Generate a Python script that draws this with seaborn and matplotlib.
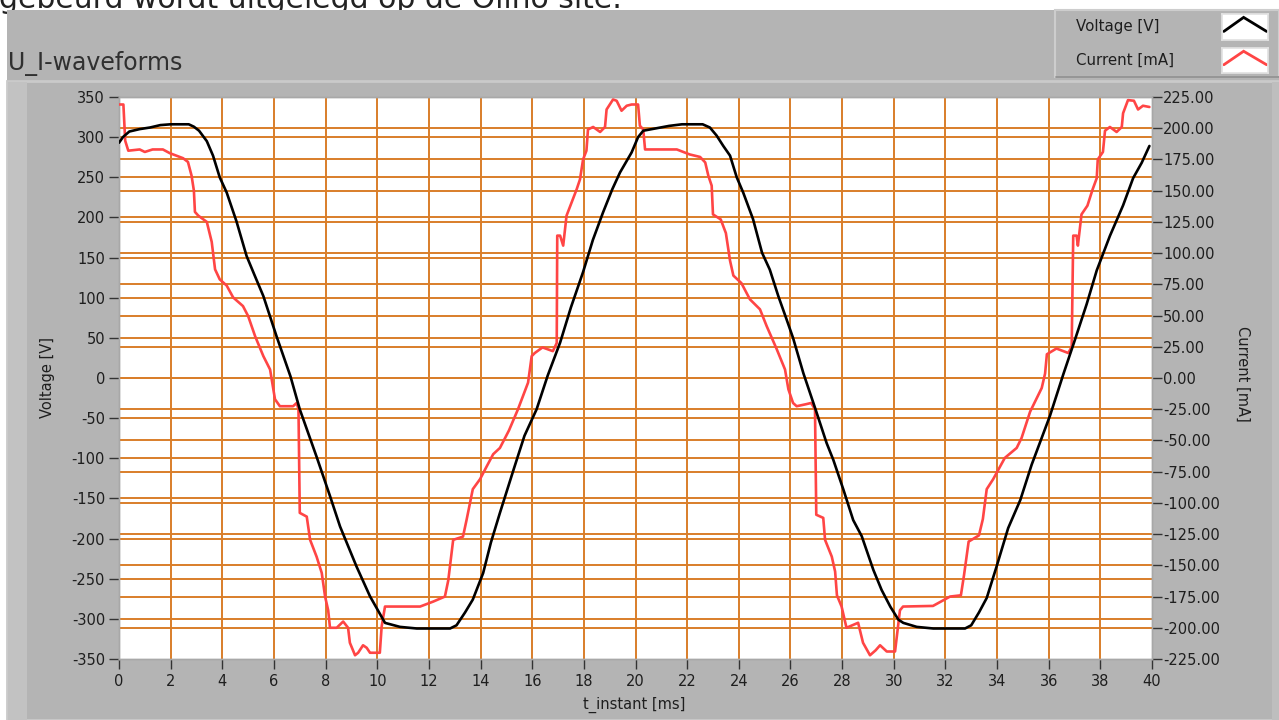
import matplotlib
matplotlib.use("Agg")
import matplotlib.pyplot as plt
import numpy as np
import pandas as pd
import seaborn as sns
from matplotlib.patches import Rectangle
from matplotlib.lines import Line2D

# ---------------- data ----------------
t_voltage = [0.0, 0.15, 0.4, 0.8, 1.2, 1.6, 2.0, 2.7, 2.9, 3.1, 3.4, 3.64, 3.9, 4.17, 4.55,
             4.94, 5.25, 5.59, 6.1, 6.64, 7.0, 7.65, 8.17, 8.56, 9.2, 9.72, 10.3, 10.88,
             11.53, 12.82, 13.07, 13.4, 13.7, 14.1, 14.4, 14.75, 15.3, 15.7, 16.17, 16.6,
             17.08, 17.5, 17.97, 18.35, 18.74, 19.1, 19.4, 19.85, 20.1, 20.3, 20.8, 21.3,
             21.8, 22.6, 22.88, 23.14, 23.4, 23.66, 23.92, 24.17, 24.55, 24.9, 25.2, 25.53,
             25.85, 26.1, 26.5, 26.95, 27.4, 27.66, 28.05, 28.43, 28.76, 29.21, 29.53, 29.87,
             30.18, 30.37, 30.89, 31.53, 32.76, 33.0, 33.3, 33.6, 33.98, 34.43, 34.9, 35.34,
             36.05, 36.57, 37.02, 37.47, 37.86, 38.37, 38.88, 39.27, 39.6, 39.9]
voltage = [293, 300, 307, 310, 312, 315, 316, 316, 313, 308, 295, 277, 250, 231, 195,
           152, 128, 102, 52, 2, -39, -98, -147, -185, -235, -272, -305, -310,
           -312, -312, -308, -292, -276, -243, -205, -168, -112, -72, -39, 3,
           44, 88, 132, 172, 206, 235, 256, 281, 300, 308, 311, 314,
           316, 316, 312, 302, 289, 277, 250, 231, 198, 156, 135, 102,
           73, 50, 6, -37, -81, -102, -139, -177, -197, -239, -264, -285,
           -301, -305, -310, -312, -312, -308, -292, -274, -235, -187, -152, -108,
           -47, 5, 48, 92, 134, 177, 215, 249, 268, 289]

t_current = [0.0, 0.17, 0.2, 0.24, 0.36, 0.8, 1.0, 1.3, 1.7, 1.97, 2.48, 2.67, 2.81, 2.9,
             2.94, 3.07, 3.4, 3.59, 3.72, 3.9, 4.17, 4.42, 4.8, 5.0, 5.27, 5.59, 5.85,
             6.04, 6.23, 6.74, 6.88, 6.95, 7.0, 7.27, 7.4, 7.65, 7.85, 7.98, 8.1, 8.17,
             8.43, 8.68, 8.87, 8.94, 9.14, 9.26, 9.45, 9.59, 9.72, 10.1, 10.17, 10.3,
             10.88, 11.66, 12.17, 12.62, 12.75, 12.94, 13.32, 13.46, 13.7, 13.98, 14.24,
             14.49, 14.75, 15.1, 15.45, 15.84, 15.98, 16.1, 16.4, 16.8, 16.95, 16.97,
             17.08, 17.2, 17.33, 17.72, 17.85, 17.97, 18.1, 18.16, 18.36, 18.63, 18.82,
             18.88, 19.13, 19.27, 19.46, 19.66, 19.85, 20.1, 20.17, 20.3, 20.37, 20.82,
             21.6, 22.1, 22.5, 22.7, 22.82, 22.95, 23.0, 23.3, 23.5, 23.66, 23.79, 24.1,
             24.43, 24.82, 25.08, 25.47, 25.79, 25.92, 26.1, 26.24, 26.6, 26.8, 26.95,
             27.0, 27.27, 27.34, 27.6, 27.73, 27.8, 27.98, 28.17, 28.5, 28.62, 28.81,
             29.08, 29.3, 29.47, 29.73, 30.05, 30.24, 30.36, 31.52, 32.18, 32.6, 32.72,
             32.9, 33.3, 33.45, 33.6, 33.85, 34.3, 34.76, 34.95, 35.28, 35.73, 35.86,
             35.93, 36.3, 36.76, 36.89, 36.95, 37.08, 37.13, 37.27, 37.5, 37.7, 37.86,
             37.9, 38.1, 38.18, 38.37, 38.63, 38.83, 38.88, 39.07, 39.3, 39.46, 39.65, 39.9]
current = [219, 219, 206, 190, 182, 183, 181, 183, 183, 180, 176, 173, 162, 150,
           133, 130, 125, 109, 87, 79, 74, 64.5, 57.6, 49.6, 33.5, 17.5, 6.8,
           -17, -22.6, -22.6, -20, -25, -108, -111, -129.6, -143, -156, -175, -186, -200,
           -200, -195, -200, -212, -222, -220, -214, -216, -220, -220, -199, -183,
           -183, -183, -179, -175, -162, -129.6, -127, -113.5, -89, -81, -70.7,
           -61, -56, -42, -25, -3.7, 17.5, 20, 24.5, 21.5, 28, 114,
           114, 106, 130, 151, 159, 175, 182, 199, 201, 197, 201,
           215, 223, 222, 214, 218, 219, 219, 202, 199, 183, 183,
           183, 179, 177, 172.6, 162, 154, 131, 127, 116, 94, 82, 76,
           63, 55, 41.5, 23, 6.8, -9, -20, -22.6, -21, -20, -25,
           -109.5, -112, -129.6, -143, -155, -174, -183, -200, -197, -196, -212,
           -222, -218, -214, -219, -219, -186, -183, -182.5, -175, -174, -158,
           -131, -126, -113, -89, -81, -64, -56, -48, -27, -8, 3.6,
           19, 23.6, 20, 25, 114, 114, 106, 131, 138, 151, 160,
           175, 181, 198, 201, 197, 201, 212, 222.5, 222, 215, 218, 217]

x_ticks = list(range(0, 41, 2))
v_ticks = list(range(-350, 351, 50))
i_ticks = list(range(-225, 226, 25))
i_tick_labels = [f"{v:.2f}" for v in i_ticks]

series_labels = ["Voltage [V]", "Current [mA]"]
title = "U_I-waveforms"
header_text = "gebeurd wordt uitgelegd op de Olino site."

# ---------------- style ----------------
sns.set_theme(style="white")
plt.rcParams["font.family"] = ["DejaVu Sans"]
plt.rcParams["axes.unicode_minus"] = False

W, H = 1279, 720
PANEL = "#B4B4B4"
GRID = "#D97E2A"
RED = "#FF4545"
TXT = "#1E1E1E"

fig = plt.figure(figsize=(W / 100, H / 100), dpi=100, facecolor="white")


def fx(px):
    return px / W


def fy(py):
    return 1 - py / H


# header text, cut by the top edge and the panel
fig.text(fx(-1), fy(7.5), header_text, fontsize=21.5, color="#222222",
         ha="left", va="baseline", zorder=0.1)

# gray panel and frames
fig.patches.append(Rectangle((fx(7), 0), 1 - fx(7), fy(10), transform=fig.transFigure,
                             facecolor=PANEL, edgecolor="none", zorder=0.2))
fig.patches.append(Rectangle((fx(7), 0), 1 - fx(7), fy(81), transform=fig.transFigure,
                             facecolor=PANEL, edgecolor="#CACACA", lw=2, zorder=0.21))
fig.patches.append(Rectangle((fx(8), 0), fx(19), fy(82), transform=fig.transFigure,
                             facecolor="#C2C2C2", edgecolor="none", zorder=0.22))
fig.patches.append(Rectangle((fx(1272), 0), fx(7), fy(82), transform=fig.transFigure,
                             facecolor="#BEBEBE", edgecolor="none", zorder=0.22))
# legend box
fig.patches.append(Rectangle((fx(1055), fy(77)), fx(1279 - 1055), (77 - 10) / H,
                             transform=fig.transFigure, facecolor=PANEL,
                             edgecolor="#CDCDCD", lw=1.5, zorder=0.3))
fig.lines.append(Line2D([fx(1056), fx(1279)], [fy(76.5), fy(76.5)], transform=fig.transFigure,
                        color="#8C8C8C", lw=1.2, zorder=0.31))

fig.text(fx(8), fy(64), title, fontsize=17, color="#303030", ha="left", va="center")

# ---------------- axes ----------------
rect = [fx(119), 1 - 659 / H, fx(1152 - 119), (659 - 97) / H]
ax = fig.add_axes(rect)
ax.set_zorder(1)
ax.set_facecolor("white")

ax2 = ax.twinx()
ax2.set_zorder(1.1)
axi = ax.twinx()
axi.set_zorder(1.2)
axv = ax.twinx()
axv.set_zorder(1.3)

df_i = pd.DataFrame({"t": t_current, "I": current})
df_v = pd.DataFrame({"t": t_voltage, "V": voltage})
sns.lineplot(data=df_i, x="t", y="I", ax=axi, color=RED, lw=1.9, estimator=None, sort=False)
sns.lineplot(data=df_v, x="t", y="V", ax=axv, color="black", lw=1.9, estimator=None, sort=False)

for a in (axi, axv):
    a.axis("off")
axi.set_ylim(-225, 225)
axv.set_ylim(-350, 350)

ax.set_xlim(0, 40)
ax.set_ylim(-350, 350)
ax.set_xticks(x_ticks)
ax.set_xticklabels([str(v) for v in x_ticks])
ax.set_yticks(v_ticks)
ax.set_yticklabels([str(v) for v in v_ticks])
ax2.set_ylim(-225, 225)
ax2.set_yticks(i_ticks)
ax2.set_yticklabels(i_tick_labels)

ax.grid(True, color=GRID, lw=1.4)
ax2.grid(True, axis="y", color=GRID, lw=1.4)
ax2.grid(False, axis="x")

# hide gridlines on the plot border
for tk, val in zip(ax.xaxis.get_major_ticks(), x_ticks):
    if val in (0, 40):
        tk.gridline.set_visible(False)
for tk, val in zip(ax.yaxis.get_major_ticks(), v_ticks):
    if val in (-350, 350):
        tk.gridline.set_visible(False)
for tk, val in zip(ax2.yaxis.get_major_ticks(), i_ticks):
    if val in (-225, 225):
        tk.gridline.set_visible(False)

for a in (ax, ax2):
    for s in a.spines.values():
        s.set_color("#A8A8A8")
        s.set_linewidth(1)

ax.tick_params(axis="both", direction="out", length=7, width=1, color="#333333",
               labelsize=10.5, labelcolor=TXT, left=True, bottom=True)
ax.tick_params(axis="x", pad=4)
ax.tick_params(axis="y", pad=3)
ax2.tick_params(axis="y", direction="out", length=7, width=1, color="#333333",
                labelsize=10.5, labelcolor=TXT, right=True, pad=1)

ax.set_xlabel("t_instant [ms]", fontsize=10.5, color=TXT)
ax.xaxis.set_label_coords(0.4985, -0.068)
ax.set_ylabel("Voltage [V]", fontsize=10.5, color=TXT)
ax.yaxis.set_label_coords(-0.062, 0.5)
ax2.set_ylabel("Current [mA]", fontsize=10.5, color=TXT, rotation=270, va="center")
ax2.yaxis.set_label_coords(1.088, 0.507)

# ---------------- legend (plot-legend style box with chevron icons) ----------------
handles = [axv.get_lines()[0], axi.get_lines()[0]]
rows = [(27, 14, 40), (60, 48, 73)]  # text centre y, icon top, icon bottom (px)
for handle, label, (yc, top, bot) in zip(handles, series_labels, rows):
    fig.text(fx(1076), fy(yc), label, fontsize=10.8, color=TXT, ha="left", va="center",
             zorder=5)
    icon = fig.add_axes([fx(1222), fy(bot), fx(46), (bot - top) / H])
    icon.set_zorder(5)
    icon.set_facecolor("white")
    icon.set_xlim(0, 1)
    icon.set_ylim(0, 1)
    icon.set_xticks([])
    icon.set_yticks([])
    for s in icon.spines.values():
        s.set_color("#E2E2E2")
    icon.add_line(Line2D([0.04, 0.47, 0.97], [0.33, 0.87, 0.33], color=handle.get_color(),
                         lw=2.0, solid_joinstyle="miter"))

fig.savefig("out.png", dpi=100, facecolor="white")
